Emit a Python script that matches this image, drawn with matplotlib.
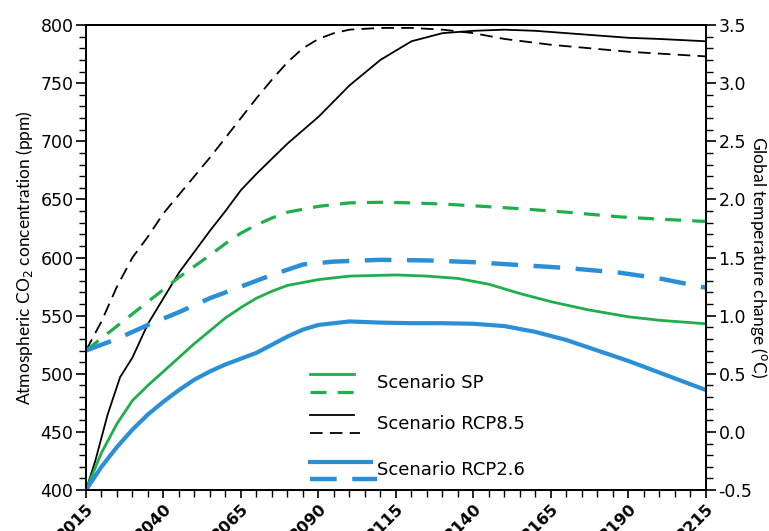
import matplotlib
matplotlib.use('Agg')
import matplotlib.pyplot as plt
import numpy as np
from matplotlib.ticker import MultipleLocator
from matplotlib.lines import Line2D

# CO2 concentration (ppm), left axis
sp_years = [2015, 2020, 2025, 2030, 2035, 2040, 2045, 2050, 2055, 2060, 2065, 2070, 2075,
            2080, 2090, 2100, 2115, 2125, 2135, 2145, 2155, 2165, 2177, 2190, 2200, 2215]
sp_co2 = [400, 432, 457, 477, 490, 502, 514, 526, 537, 548, 557, 565, 571,
          576, 581, 584, 585, 584, 582, 577, 569, 562, 555, 549, 546, 543]

rcp85_years = [2015, 2018, 2022, 2026, 2030, 2035, 2040, 2045, 2050, 2055, 2060, 2065, 2070,
               2080, 2090, 2100, 2110, 2120, 2130, 2140, 2150, 2160, 2170, 2180, 2190, 2200, 2215]
rcp85_co2 = [400, 425, 465, 497, 514, 543, 565, 587, 605, 623, 640, 658, 672,
             698, 721, 748, 770, 786, 793, 795, 796, 795, 793, 791, 789, 788, 786]

rcp26_years = [2015, 2020, 2025, 2030, 2035, 2040, 2045, 2050, 2055, 2060, 2065, 2070, 2075,
               2080, 2085, 2090, 2100, 2110, 2120, 2130, 2140, 2150, 2160, 2170, 2180, 2190,
               2200, 2207, 2215]
rcp26_co2 = [400, 420, 437, 452, 465, 476, 486, 495, 502, 508, 513, 518, 525,
             532, 538, 542, 545, 544, 543.5, 543.5, 543, 541, 536, 529, 520, 511,
             501, 494, 486]

# global temperature change (C), right axis
sp_t_years = [2015, 2025, 2035, 2045, 2055, 2060, 2065, 2070, 2075, 2080, 2090, 2100,
              2110, 2120, 2130, 2140, 2155, 2170, 2187, 2200, 2215]
sp_temp = [0.70, 0.91, 1.12, 1.33, 1.52, 1.62, 1.71, 1.78, 1.84, 1.89, 1.94, 1.97,
           1.975, 1.97, 1.96, 1.945, 1.92, 1.89, 1.85, 1.83, 1.81]

rcp85_t_years = [2015, 2020, 2025, 2030, 2035, 2040, 2045, 2050, 2055, 2060, 2065, 2070,
                 2075, 2080, 2085, 2090, 2095, 2100, 2110, 2120, 2130, 2140, 2150, 2165,
                 2190, 2215]
rcp85_temp = [0.70, 0.95, 1.25, 1.50, 1.68, 1.88, 2.04, 2.20, 2.36, 2.53, 2.70, 2.87,
              3.03, 3.18, 3.30, 3.38, 3.43, 3.46, 3.475, 3.475, 3.46, 3.43, 3.38, 3.33,
              3.27, 3.23]

rcp26_t_years = [2015, 2025, 2035, 2045, 2055, 2065, 2075, 2085, 2095, 2110, 2125, 2140,
                 2155, 2170, 2187, 2200, 2215]
rcp26_temp = [0.70, 0.80, 0.92, 1.03, 1.15, 1.25, 1.35, 1.44, 1.465, 1.48, 1.475, 1.46,
              1.435, 1.41, 1.37, 1.32, 1.24]

year_ticks = list(range(2015, 2216, 25))

green = '#1fae4b'
blue = '#2b8fd8'

fig = plt.figure(figsize=(7.69, 5.31), dpi=100)
ax = fig.add_axes([0.1118, 0.0772, 0.8062, 0.8757])
ax2 = ax.twinx()

ax.plot(rcp85_years, rcp85_co2, color='black', lw=1.3)
ax.plot(sp_years, sp_co2, color=green, lw=2.0)
ax.plot(rcp26_years, rcp26_co2, color=blue, lw=3.0)

ax2.plot(rcp85_t_years, rcp85_temp, color='black', lw=1.3, dashes=(7, 4))
ax2.plot(sp_t_years, sp_temp, color=green, lw=2.3, dashes=(5, 3.5))
ax2.plot(rcp26_t_years, rcp26_temp, color=blue, lw=3.2, dashes=(6, 3.5))

ax.set_xticks(year_ticks)
ax.set_xticklabels([str(y) for y in year_ticks], rotation=45, ha='right', va='top',
                   rotation_mode='anchor', fontsize=11.5, fontweight='bold')
ax.xaxis.set_minor_locator(MultipleLocator(5))
ax.set_xlim(2015, 2215)
ax.set_ylim(400, 800)
ax2.set_ylim(-0.5, 3.5)

ax.yaxis.set_major_locator(MultipleLocator(50))
ax.yaxis.set_minor_locator(MultipleLocator(10))
ax2.set_yticks(np.arange(-0.5, 3.51, 0.5))
ax2.set_yticklabels(['%.1f' % v for v in np.arange(-0.5, 3.51, 0.5)])
ax2.yaxis.set_minor_locator(MultipleLocator(0.1))

for a in (ax, ax2):
    a.tick_params(axis='y', which='major', length=7, width=1.2, labelsize=12.5, pad=2)
    a.tick_params(which='minor', length=5, width=1.0)
    for s in a.spines.values():
        s.set_linewidth(1.4)
ax.tick_params(axis='x', which='major', length=6, width=1.2, pad=2)

ax.set_ylabel('Atmospheric CO$_2$ concentration (ppm)', fontsize=12.5, family='Lato', labelpad=4)
ax2.set_ylabel('Global temperature change ($^{\\rm o}$C)', fontsize=12.5, family='Lato',
               rotation=270, labelpad=12)

# legend drawn by hand: solid (CO2) over dashed (temperature) per scenario
leg = [(green, 2.0, 2.3, (5, 3.5), 'Scenario SP', 0.249, 0.211, 0.442),
       ('black', 1.3, 1.3, (7, 4), 'Scenario RCP8.5', 0.161, 0.123, 0.442),
       (blue, 3.0, 3.2, (6, 3.5), 'Scenario RCP2.6', 0.061, 0.023, 0.47)]
for c, lw1, lw2, ds, lab, y1, y2, xr in leg:
    ax.add_line(Line2D([0.361, xr - 0.01], [y1, y1], color=c, lw=lw1, transform=ax.transAxes))
    ax.add_line(Line2D([0.361, xr], [y2, y2], color=c, lw=lw2, dashes=ds, transform=ax.transAxes))
    ax.text(0.469, (y1 + y2) / 2, lab, transform=ax.transAxes, fontsize=13, va='center')

plt.savefig('out.png', dpi=100)
plt.close()
